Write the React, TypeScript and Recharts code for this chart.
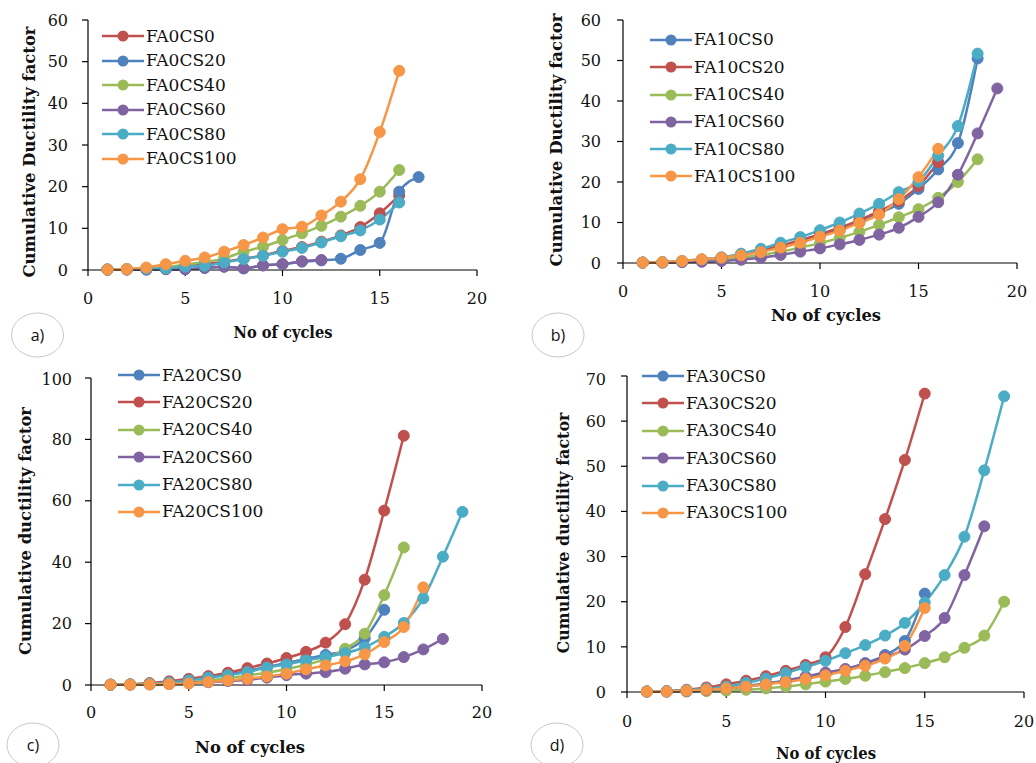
import React from 'react';
import { LineChart, Line, XAxis, YAxis, Legend } from 'recharts';

// ---------- data ----------
const cycles = [1, 2, 3, 4, 5, 6, 7, 8, 9, 10, 11, 12, 13, 14, 15, 16, 17, 18, 19];
const xTicks = [0, 5, 10, 15, 20];

// a) FA0
const FA0CS0 = [0.1, 0.2, 0.3, 0.5, 0.9, 1.4, 2.0, 2.7, 3.5, 4.6, 5.5, 6.8, 8.3, 10.3, 13.6, 17.9];
const FA0CS20 = [0.1, 0.1, 0.1, 0.2, 0.2, 0.5, 0.8, 0.4, 1.1, 1.4, 2.0, 2.3, 2.7, 4.8, 6.5, 18.8, 22.3];
const FA0CS40 = [0.1, 0.2, 0.4, 0.7, 1.3, 1.9, 2.8, 4.4, 5.6, 7.2, 8.8, 10.6, 12.8, 15.4, 18.8, 24.0];
const FA0CS60 = [0.1, 0.1, 0.1, 0.2, 0.2, 0.5, 0.8, 0.4, 1.1, 1.4, 2.1, 2.4];
const FA0CS80 = [0.1, 0.2, 0.3, 0.4, 0.8, 1.0, 1.8, 2.6, 3.4, 4.4, 5.3, 6.6, 8.1, 9.5, 12.1, 16.2];
const FA0CS100 = [0.1, 0.2, 0.6, 1.4, 2.2, 3.0, 4.4, 6.0, 7.8, 9.8, 10.4, 13.1, 16.4, 21.8, 33.1, 47.8];

// b) FA10
const FA10CS0 = [0.1, 0.2, 0.4, 0.8, 1.3, 2.0, 3.0, 4.2, 5.4, 6.8, 8.3, 10.2, 12.3, 14.6, 18.3, 23.1, 29.6, 50.5];
const FA10CS20 = [0.1, 0.2, 0.4, 0.8, 1.3, 2.1, 3.1, 4.3, 5.6, 7.1, 8.7, 10.6, 12.8, 15.3, 19.0, 24.9];
const FA10CS40 = [0.1, 0.1, 0.3, 0.5, 0.8, 1.3, 2.0, 2.8, 3.8, 4.9, 6.2, 7.7, 9.4, 11.3, 13.3, 16.1, 20.0, 25.6];
const FA10CS60 = [0.1, 0.1, 0.2, 0.3, 0.5, 0.8, 1.3, 2.0, 2.8, 3.6, 4.6, 5.7, 7.0, 8.7, 11.4, 15.0, 21.8, 32.0, 43.1];
const FA10CS80 = [0.1, 0.2, 0.5, 0.9, 1.4, 2.3, 3.5, 5.0, 6.4, 8.1, 10.0, 12.2, 14.6, 17.5, 20.1, 26.5, 33.8, 51.7];
const FA10CS100 = [0.1, 0.2, 0.5, 0.9, 1.3, 1.9, 2.7, 3.8, 5.0, 6.5, 8.0, 9.9, 12.0, 15.8, 21.2, 28.2];

// c) FA20
const FA20CS0 = [0.1, 0.2, 0.5, 0.9, 1.6, 2.4, 3.4, 4.6, 5.9, 7.2, 8.5, 9.8, 11.2, 15.2, 24.5];
const FA20CS20 = [0.1, 0.2, 0.6, 1.2, 2.0, 2.9, 4.0, 5.5, 7.0, 8.8, 10.8, 13.8, 19.8, 34.3, 56.8, 81.2];
const FA20CS40 = [0.1, 0.2, 0.3, 0.5, 0.9, 1.5, 2.2, 3.1, 4.0, 5.2, 6.6, 8.5, 11.8, 16.7, 29.3, 44.8];
const FA20CS60 = [0.1, 0.1, 0.2, 0.3, 0.6, 0.9, 1.3, 1.7, 2.4, 3.2, 3.7, 4.2, 5.3, 6.7, 7.4, 9.1, 11.6, 15.0];
const FA20CS80 = [0.1, 0.2, 0.4, 0.8, 1.5, 2.4, 3.2, 4.2, 5.7, 6.7, 8.0, 9.1, 10.4, 12.3, 15.7, 20.2, 28.2, 41.8, 56.4];
const FA20CS100 = [0.1, 0.1, 0.2, 0.3, 0.5, 1.0, 1.5, 2.0, 2.8, 3.7, 5.1, 6.4, 7.7, 10.0, 14.0, 18.9, 31.8];

// d) FA30
const FA30CS0 = [0.1, 0.1, 0.3, 0.5, 0.8, 1.3, 1.9, 2.5, 3.3, 4.2, 5.0, 6.4, 8.2, 11.3, 21.8];
const FA30CS20 = [0.1, 0.2, 0.5, 1.0, 1.7, 2.5, 3.5, 4.7, 6.0, 7.7, 14.4, 26.1, 38.3, 51.4, 66.1];
const FA30CS40 = [0.1, 0.1, 0.1, 0.2, 0.3, 0.5, 0.8, 1.2, 1.7, 2.3, 2.9, 3.6, 4.4, 5.3, 6.4, 7.7, 9.8, 12.5, 20.0];
const FA30CS60 = [0.1, 0.1, 0.2, 0.4, 0.8, 1.2, 1.8, 2.5, 3.4, 4.3, 5.1, 6.3, 7.8, 9.4, 12.4, 16.4, 25.9, 36.7];
const FA30CS80 = [0.1, 0.2, 0.4, 0.7, 1.2, 2.0, 3.0, 4.2, 5.5, 6.9, 8.6, 10.4, 12.5, 15.3, 19.8, 25.9, 34.4, 49.1, 65.5];
const FA30CS100 = [0.1, 0.1, 0.3, 0.5, 0.8, 1.2, 1.7, 2.2, 2.9, 3.7, 4.7, 5.8, 7.4, 10.2, 18.6];

// ---------- styling ----------
const BLUE = '#4F81BD';
const RED = '#C0504D';
const GREEN = '#9BBB59';
const PURPLE = '#8064A2';
const CYAN = '#4BACC6';
const ORANGE = '#F79646';

const SERIF = "'DejaVu Serif', serif";

type Series = { name: string; values: number[]; color: string };

const toPoints = (values: number[]) => values.map((v, i) => ({ x: cycles[i], y: v }));

type PanelCfg = {
  left: number;
  top: number;
  width: number;
  height: number;
  margin: { top: number; right: number; bottom: number; left: number };
  yMax: number;
  yTicks: number[];
  series: Series[];
  legendLeft: number;
  legendTop: number;
  rowH: number;
  yTickGap: number;
  xTickGap: number;
};

const makeLegend = (order: string[], rowH: number) => (props: any) => {
  const items = [...(props.payload || [])].sort(
    (a: any, b: any) => order.indexOf(a.value) - order.indexOf(b.value)
  );
  return (
    <div>
      {items.map((p: any) => (
        <div key={p.value} style={{ display: 'flex', alignItems: 'center', height: rowH }}>
          <svg width={42} height={14} style={{ display: 'block' }}>
            <line x1={0} y1={7} x2={42} y2={7} stroke={p.color} strokeWidth={2.5} />
            <circle cx={21} cy={7} r={5.5} fill={p.color} />
          </svg>
          <span style={{ marginLeft: 2, fontFamily: SERIF, fontSize: 17, color: '#111', lineHeight: 1, whiteSpace: 'nowrap' }}>
            {p.value}
          </span>
        </div>
      ))}
    </div>
  );
};

const Panel = ({ cfg }: { cfg: PanelCfg }) => {
  const order = cfg.series.map((s) => s.name);
  return (
    <div style={{ position: 'absolute', left: cfg.left, top: cfg.top }}>
      <LineChart width={cfg.width} height={cfg.height} margin={cfg.margin}>
        <XAxis
          type="number"
          dataKey="x"
          domain={[0, 20]}
          ticks={xTicks}
          height={30}
          axisLine={{ stroke: '#000', strokeWidth: 1.2 }}
          tickLine={{ stroke: '#000', strokeWidth: 1.2 }}
          tickSize={6}
          tickMargin={cfg.xTickGap}
          tick={{ fontFamily: SERIF, fontSize: 16, fill: '#111' }}
          allowDuplicatedCategory={false}
        />
        <YAxis
          type="number"
          domain={[0, cfg.yMax]}
          ticks={cfg.yTicks}
          width={60}
          axisLine={{ stroke: '#000', strokeWidth: 1.2 }}
          tickLine={{ stroke: '#000', strokeWidth: 1.2 }}
          tickSize={6}
          tickMargin={cfg.yTickGap}
          tick={{ fontFamily: SERIF, fontSize: 16, fill: '#111' }}
        />
        <Legend
          layout="vertical"
          align="center"
          verticalAlign="middle"
          itemSorter={(item: any) => order.indexOf(item.value)}
          wrapperStyle={{ left: cfg.legendLeft, top: cfg.legendTop, width: 'auto' }}
          content={makeLegend(order, cfg.rowH)}
        />
        {cfg.series.map((s) => (
          <Line
            key={s.name}
            name={s.name}
            data={toPoints(s.values)}
            dataKey="y"
            type="monotone"
            stroke={s.color}
            strokeWidth={2.5}
            dot={{ r: 5.5, fill: s.color, stroke: s.color, strokeWidth: 1 }}
            activeDot={false}
            isAnimationActive={false}
          />
        ))}
      </LineChart>
    </div>
  );
};

const panels: PanelCfg[] = [
  {
    left: 0, top: 0, width: 518, height: 370,
    margin: { top: 20, right: 41, bottom: 70, left: 28 },
    yMax: 60, yTicks: [0, 10, 20, 30, 40, 50, 60],
    series: [
      { name: 'FA0CS0', values: FA0CS0, color: RED },
      { name: 'FA0CS20', values: FA0CS20, color: BLUE },
      { name: 'FA0CS40', values: FA0CS40, color: GREEN },
      { name: 'FA0CS60', values: FA0CS60, color: PURPLE },
      { name: 'FA0CS80', values: FA0CS80, color: CYAN },
      { name: 'FA0CS100', values: FA0CS100, color: ORANGE },
    ],
    legendLeft: 102, legendTop: 23.75, rowH: 24.5, yTickGap: 14, xTickGap: 17,
  },
  {
    left: 518, top: 0, width: 518, height: 370,
    margin: { top: 20, right: 19, bottom: 77, left: 45 },
    yMax: 60, yTicks: [0, 10, 20, 30, 40, 50, 60],
    series: [
      { name: 'FA10CS0', values: FA10CS0, color: BLUE },
      { name: 'FA10CS20', values: FA10CS20, color: RED },
      { name: 'FA10CS40', values: FA10CS40, color: GREEN },
      { name: 'FA10CS60', values: FA10CS60, color: PURPLE },
      { name: 'FA10CS80', values: FA10CS80, color: CYAN },
      { name: 'FA10CS100', values: FA10CS100, color: ORANGE },
    ],
    legendLeft: 132, legendTop: 26.35, rowH: 27.3, yTickGap: 16, xTickGap: 17,
  },
  {
    left: 0, top: 370, width: 518, height: 393,
    margin: { top: 8, right: 36, bottom: 48, left: 31 },
    yMax: 100, yTicks: [0, 20, 40, 60, 80, 100],
    series: [
      { name: 'FA20CS0', values: FA20CS0, color: BLUE },
      { name: 'FA20CS20', values: FA20CS20, color: RED },
      { name: 'FA20CS40', values: FA20CS40, color: GREEN },
      { name: 'FA20CS60', values: FA20CS60, color: PURPLE },
      { name: 'FA20CS80', values: FA20CS80, color: CYAN },
      { name: 'FA20CS100', values: FA20CS100, color: ORANGE },
    ],
    legendLeft: 118, legendTop: -8.7, rowH: 27.4, yTickGap: 13, xTickGap: 16,
  },
  {
    left: 518, top: 370, width: 518, height: 393,
    margin: { top: 6, right: 12, bottom: 41, left: 49 },
    yMax: 70, yTicks: [0, 10, 20, 30, 40, 50, 60, 70],
    series: [
      { name: 'FA30CS0', values: FA30CS0, color: BLUE },
      { name: 'FA30CS20', values: FA30CS20, color: RED },
      { name: 'FA30CS40', values: FA30CS40, color: GREEN },
      { name: 'FA30CS60', values: FA30CS60, color: PURPLE },
      { name: 'FA30CS80', values: FA30CS80, color: CYAN },
      { name: 'FA30CS100', values: FA30CS100, color: ORANGE },
    ],
    legendLeft: 124, legendTop: -7.7, rowH: 27.4, yTickGap: 15, xTickGap: 18,
  },
];

const yTitles = [
  { text: 'Cumulative Ductility factor', x: 29.5, y: 152, len: 251 },
  { text: 'Cumulative Ductility factor', x: 556, y: 140, len: 253 },
  { text: 'Cumulative ductility factor', x: 25, y: 531, len: 248 },
  { text: 'Cumulative ductility factor', x: 563, y: 533, len: 241 },
];
const xTitles = [
  { text: 'No of cycles', x: 283, y: 332, len: 99 },
  { text: 'No of cycles', x: 826, y: 315, len: 110 },
  { text: 'No of cycles', x: 250, y: 747, len: 110 },
  { text: 'No of cycles', x: 826, y: 753, len: 100 },
];
const tags = [
  { text: 'a)', x: 37.5, y: 335 },
  { text: 'b)', x: 558, y: 335 },
  { text: 'c)', x: 33, y: 745 },
  { text: 'd)', x: 557, y: 745 },
];

export default function App() {
  return (
    <div style={{ position: 'absolute', left: 0, top: 0, width: 1036, height: 763, background: '#fff', overflow: 'hidden' }}>
      {panels.map((p, i) => (
        <Panel key={i} cfg={p} />
      ))}
      <svg width={1036} height={763} style={{ position: 'absolute', left: 0, top: 0, pointerEvents: 'none' }}>
        {yTitles.map((t, i) => (
          <text
            key={'y' + i}
            x={t.x}
            y={t.y}
            transform={`rotate(-90 ${t.x} ${t.y})`}
            textAnchor="middle"
            dominantBaseline="central"
            fontFamily={SERIF}
            fontWeight="bold"
            fontSize={16}
            textLength={t.len}
            lengthAdjust="spacingAndGlyphs"
            fill="#111"
          >
            {t.text}
          </text>
        ))}
        {xTitles.map((t, i) => (
          <text
            key={'x' + i}
            x={t.x}
            y={t.y}
            textAnchor="middle"
            dominantBaseline="central"
            fontFamily={SERIF}
            fontWeight="bold"
            fontSize={16}
            textLength={t.len}
            lengthAdjust="spacingAndGlyphs"
            fill="#111"
          >
            {t.text}
          </text>
        ))}
        {tags.map((t, i) => (
          <g key={'t' + i}>
            <ellipse cx={t.x} cy={t.y} rx={26} ry={22} fill="none" stroke="#c8c8c8" strokeWidth={1} />
            <text
              x={t.x}
              y={t.y}
              textAnchor="middle"
              dominantBaseline="central"
              fontFamily="'Open Sans', 'Liberation Sans', sans-serif"
              fontSize={16}
              fill="#111"
            >
              {t.text}
            </text>
          </g>
        ))}
      </svg>
    </div>
  );
}
